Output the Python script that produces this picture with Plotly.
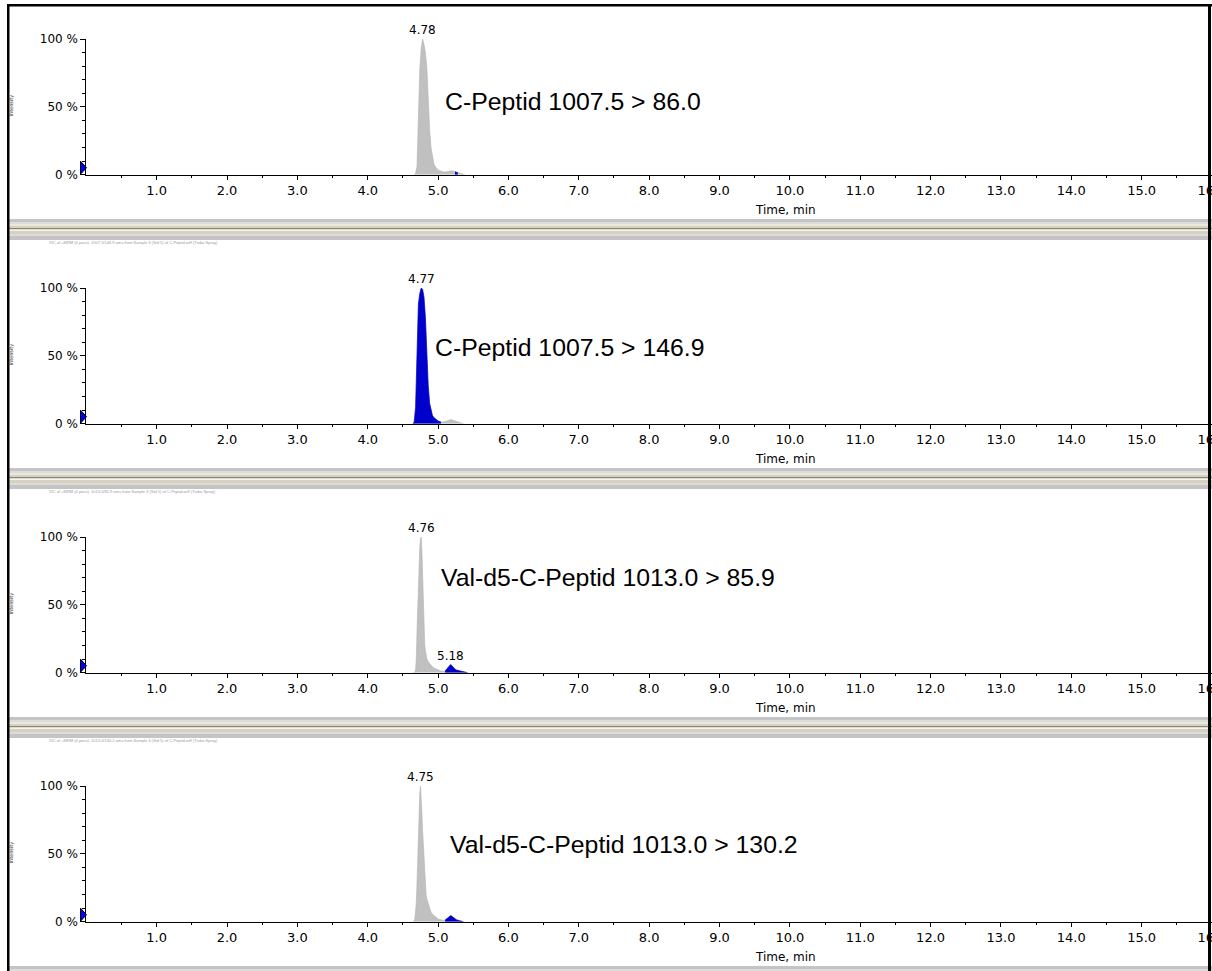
import plotly.graph_objects as go

# ---------------- data ----------------
time_ticks = [1.0, 2.0, 3.0, 4.0, 5.0, 6.0, 7.0, 8.0, 9.0, 10.0, 11.0, 12.0, 13.0, 14.0, 15.0, 16.0]
time_tick_labels = ["1.0", "2.0", "3.0", "4.0", "5.0", "6.0", "7.0", "8.0", "9.0", "10.0",
                    "11.0", "12.0", "13.0", "14.0", "15.0", "16.0"]
pct_ticks = [0, 50, 100]
pct_tick_labels = ["0 %", "50 %", "100 %"]
pct_minor = [10, 20, 30, 40, 60, 70, 80, 90]

titles = ["C-Peptid 1007.5 > 86.0", "C-Peptid 1007.5 > 146.9",
          "Val-d5-C-Peptid 1013.0 > 85.9", "Val-d5-C-Peptid 1013.0 > 130.2"]
title_pos_time = [5.07, 4.93, 5.02, 5.14]
title_pos_pct = [54, 56, 70, 57]

apex_times = [4.78, 4.77, 4.76, 4.75]
apex_labels = ["4.78", "4.77", "4.76", "4.75"]

second_apex_panel = 2
second_apex_time = 5.18
second_apex_pct = 6.0
second_apex_label = "5.18"

info_texts = [
    "",
    "XIC of +MRM (4 pairs): 1007.5/146.9 amu from Sample 3 (Std 5) of C-Peptid.wiff (Turbo Spray)",
    "XIC of +MRM (4 pairs): 1013.0/85.9 amu from Sample 3 (Std 5) of C-Peptid.wiff (Turbo Spray)",
    "XIC of +MRM (4 pairs): 1013.0/130.2 amu from Sample 3 (Std 5) of C-Peptid.wiff (Turbo Spray)",
]

# panel 1 : C-Peptid 1007.5 > 86.0
p1_time = [4.66, 4.68, 4.70, 4.72, 4.74, 4.76, 4.78, 4.80, 4.82, 4.84, 4.86, 4.88, 4.90, 4.92,
           4.94, 4.96, 4.98, 5.00, 5.02, 5.04, 5.06, 5.08, 5.10, 5.12, 5.14, 5.16, 5.18, 5.20,
           5.22, 5.24, 5.26, 5.28, 5.30, 5.32, 5.34, 5.36, 5.38]
p1_int = [0, 1, 6, 40, 78, 93, 100, 96, 90, 80, 50, 33, 20, 13,
          8, 6, 4.5, 3.5, 3, 2.5, 2.2, 2, 2, 2.2, 2.6, 3, 3.2, 3,
          2.6, 2.2, 1.8, 1.4, 1, 0.7, 0.4, 0.2, 0]
p1_blue = (5.24, 5.28)

# panel 2 : C-Peptid 1007.5 > 146.9
p2_time = [4.64, 4.66, 4.68, 4.70, 4.72, 4.74, 4.76, 4.78, 4.80, 4.82, 4.84, 4.86, 4.88, 4.90,
           4.92, 4.94, 4.96, 4.98, 5.00, 5.02, 5.04, 5.06, 5.08, 5.10, 5.12, 5.14, 5.16, 5.18,
           5.20, 5.22, 5.24, 5.26, 5.28, 5.30, 5.32, 5.34, 5.36]
p2_int = [0, 1, 12, 62, 88, 96, 100, 99, 93, 78, 52, 28, 15, 10,
          6, 4.5, 3.5, 2.5, 2, 1.6, 1.3, 1.2, 1.3, 1.6, 2, 2.5, 2.8, 3,
          2.8, 2.4, 2, 1.5, 1.1, 0.8, 0.5, 0.3, 0]
p2_blue = (4.64, 5.04)

# panel 3 : Val-d5-C-Peptid 1013.0 > 85.9
p3_time = [4.65, 4.67, 4.68, 4.69, 4.70, 4.71, 4.72, 4.73, 4.74, 4.75, 4.76, 4.77, 4.78, 4.79,
           4.80, 4.81, 4.82, 4.83, 4.84, 4.86, 4.88, 4.90, 4.92, 4.94, 4.96, 4.98, 5.00, 5.02,
           5.04, 5.06, 5.08, 5.10, 5.12, 5.14, 5.16, 5.18, 5.20, 5.22, 5.24, 5.26, 5.28, 5.30,
           5.32, 5.34, 5.36, 5.38, 5.40, 5.42]
p3_int = [0, 0.5, 2, 10, 30, 50, 70, 84, 93, 98, 100, 90, 68, 45,
          30, 21, 16, 12.5, 10.5, 8, 6.5, 5.2, 4.3, 3.5, 3, 2.3, 1.8, 1.5,
          1.2, 1, 1, 1.3, 2.5, 4, 5.5, 6, 5, 3.5, 2.5, 2, 1.6, 1.4,
          1.2, 1, 0.8, 0.6, 0.3, 0]
p3_blue = (5.10, 5.42)

# panel 4 : Val-d5-C-Peptid 1013.0 > 130.2
p4_time = [4.64, 4.66, 4.67, 4.68, 4.69, 4.70, 4.71, 4.72, 4.73, 4.74, 4.75, 4.76, 4.77, 4.78,
           4.79, 4.80, 4.81, 4.82, 4.83, 4.84, 4.86, 4.88, 4.90, 4.92, 4.94, 4.96, 4.98, 5.00,
           5.02, 5.04, 5.06, 5.08, 5.10, 5.12, 5.14, 5.16, 5.18, 5.20, 5.22, 5.24, 5.26, 5.28,
           5.30, 5.32, 5.34, 5.36]
p4_int = [0, 0.5, 2, 6, 14, 28, 48, 68, 84, 95, 100, 93, 80, 67,
          55, 45, 34, 25, 20, 17, 13, 10, 7, 5.5, 4.5, 3.5, 2.5, 2,
          1.6, 1.3, 1.1, 1, 1.2, 2, 3.2, 4.2, 4.5, 3.8, 2.8, 2, 1.5, 1.1,
          0.8, 0.6, 0.4, 0]
p4_blue = (5.10, 5.36)

panels = [(p1_time, p1_int, p1_blue), (p2_time, p2_int, p2_blue),
          (p3_time, p3_int, p3_blue), (p4_time, p4_int, p4_blue)]

# ---------------- layout constants ----------------
W, H = 1212, 971
X_AXIS_LEFT_PX = 86.3
PANEL_PITCH = 249.0
ZERO_PX = 174.7
TOP_PX = 39.0
GRAY = "#c0c0c0"
BLUE = "#0000cc"
TICK_FONT = "DejaVu Sans"
TITLE_FONT = "Liberation Sans, Arial"


def py(p):
    return 1 - p / H


def px(p):
    return p / W


fig = go.Figure()
layout = dict(
    template="none",
    width=W, height=H, margin=dict(l=0, r=0, t=0, b=0, pad=0), autosize=False,
    paper_bgcolor="white", plot_bgcolor="white", showlegend=False,
    hovermode=False,
)
annotations = []
shapes = []

for i, (t, v, blue) in enumerate(panels):
    n = "" if i == 0 else str(i + 1)
    xa, ya = "x" + n, "y" + n
    fig.add_trace(go.Scatter(x=t, y=v, xaxis=xa, yaxis=ya, mode="lines",
                             fill="tozeroy", fillcolor=GRAY,
                             line=dict(color="#b4b4b4", width=0.6)))
    bt = [tt for tt in t if blue[0] <= tt <= blue[1]]
    bv = [vv for tt, vv in zip(t, v) if blue[0] <= tt <= blue[1]]
    fig.add_trace(go.Scatter(x=bt, y=bv, xaxis=xa, yaxis=ya, mode="lines",
                             fill="tozeroy", fillcolor=BLUE,
                             line=dict(color=BLUE, width=0.6)))

    z = ZERO_PX + PANEL_PITCH * i
    top = TOP_PX + PANEL_PITCH * i
    layout["xaxis" + n] = dict(
        domain=[px(X_AXIS_LEFT_PX), 1], range=[0, 16], anchor=ya, automargin=False,
        showline=True, linecolor="black", linewidth=1, showgrid=False, zeroline=False,
        ticks="outside", ticklen=4, tickcolor="black", tickwidth=1,
        tickvals=time_ticks, ticktext=time_tick_labels, ticklabeloverflow="allow",
        tickfont=dict(family=TICK_FONT, size=13, color="black"),
        minor=dict(tickvals=[tv - 0.5 for tv in time_ticks], ticks="outside",
                   ticklen=2, tickcolor="black", showgrid=False),
        fixedrange=True,
    )
    layout["yaxis" + n] = dict(
        domain=[py(z), py(top)], range=[0, 100], anchor=xa, automargin=False,
        showline=True, linecolor="black", linewidth=1, showgrid=False, zeroline=False,
        ticks="outside", ticklen=5, tickcolor="black", tickwidth=1,
        tickvals=pct_ticks, ticktext=pct_tick_labels,
        tickfont=dict(family=TICK_FONT, size=12, color="black"),
        minor=dict(tickvals=pct_minor, ticks="outside", ticklen=3,
                   tickcolor="black", showgrid=False),
        fixedrange=True,
    )
    # start-of-trace marker (decoration at the origin, left of the y axis)
    shapes.append(dict(type="path", xref="paper", yref="paper", layer="above",
                       path="M {a},{b} L {a},{c} L {d},{e} Z".format(
                           a=px(80.5), b=py(z - 0.5), c=py(z - 13.5),
                           d=px(86.5), e=py(z - 7)),
                       fillcolor="#0000ff", line=dict(color="black", width=1)))
    # title of the transition
    annotations.append(dict(x=title_pos_time[i], y=title_pos_pct[i], xref=xa, yref=ya,
                            text=titles[i], showarrow=False, xanchor="left", yanchor="middle",
                            font=dict(family=TITLE_FONT, size=24.8, color="black")))
    # apex label
    annotations.append(dict(x=apex_times[i], y=100, xref=xa, yref=ya, text=apex_labels[i],
                            showarrow=False, xanchor="center", yanchor="bottom",
                            font=dict(family=TICK_FONT, size=12, color="black")))
    # axis title
    annotations.append(dict(x=px(785), y=py(210 + PANEL_PITCH * i), xref="paper", yref="paper",
                            text="Time, min", showarrow=False, xanchor="center", yanchor="middle",
                            font=dict(family=TICK_FONT, size=12, color="black")))
    # clipped vertical axis caption
    annotations.append(dict(x=px(10.5), y=py(106 + PANEL_PITCH * i), xref="paper", yref="paper",
                            text="Intensity", textangle=-90, showarrow=False,
                            xanchor="center", yanchor="middle",
                            font=dict(family=TICK_FONT, size=5, color="#222222")))
    if info_texts[i]:
        annotations.append(dict(x=px(47), y=py(242 + PANEL_PITCH * (i - 1)), xref="paper",
                                yref="paper", text=info_texts[i], showarrow=False,
                                xanchor="left", yanchor="middle",
                                font=dict(family="Liberation Sans", size=4, color="#9a9a9a")))

# secondary peak label
n = str(second_apex_panel + 1)
annotations.append(dict(x=second_apex_time, y=second_apex_pct, xref="x" + n, yref="y" + n,
                        text=second_apex_label, showarrow=False, xanchor="center",
                        yanchor="bottom",
                        font=dict(family=TICK_FONT, size=12, color="black")))

# separator bands (window splitters)
stripes = [(0, 3, "#c4c4c4"), (3, 5, "#dcdcdc"), (5, 7, "#ece9d8"), (7, 9, "#d6d2bf"),
           (9, 10.5, "#8a8676"), (10.5, 12, "#f4f3ee"), (12, 15, "#d6d2bf"),
           (15, 17, "#dcdcdc"), (17, 21, "#c4c4c4")]
for k in range(4):
    base = 219 + PANEL_PITCH * k
    for a, b, c in stripes:
        y0p, y1p = base + a, min(base + b, H)
        if y0p >= H:
            continue
        shapes.append(dict(type="rect", xref="paper", yref="paper", layer="above",
                           x0=px(9), x1=1, y0=py(y1p), y1=py(y0p),
                           fillcolor=c, line=dict(width=0)))

# black window border
shapes.append(dict(type="rect", xref="paper", yref="paper", layer="above",
                   x0=px(7), x1=px(9.5), y0=0, y1=py(4), fillcolor="black", line=dict(width=0)))
shapes.append(dict(type="rect", xref="paper", yref="paper", layer="above",
                   x0=px(7), x1=1, y0=py(6.5), y1=py(4), fillcolor="black", line=dict(width=0)))
shapes.append(dict(type="rect", xref="paper", yref="paper", layer="above",
                   x0=px(1208), x1=px(1211), y0=0, y1=py(4), fillcolor="black", line=dict(width=0)))

layout["annotations"] = annotations
layout["shapes"] = shapes
fig.update_layout(**layout)

fig.write_html("out.html", config={"displayModeBar": False, "responsive": False},
               post_script="document.body.style.margin='0px';document.body.style.overflow='hidden';")
